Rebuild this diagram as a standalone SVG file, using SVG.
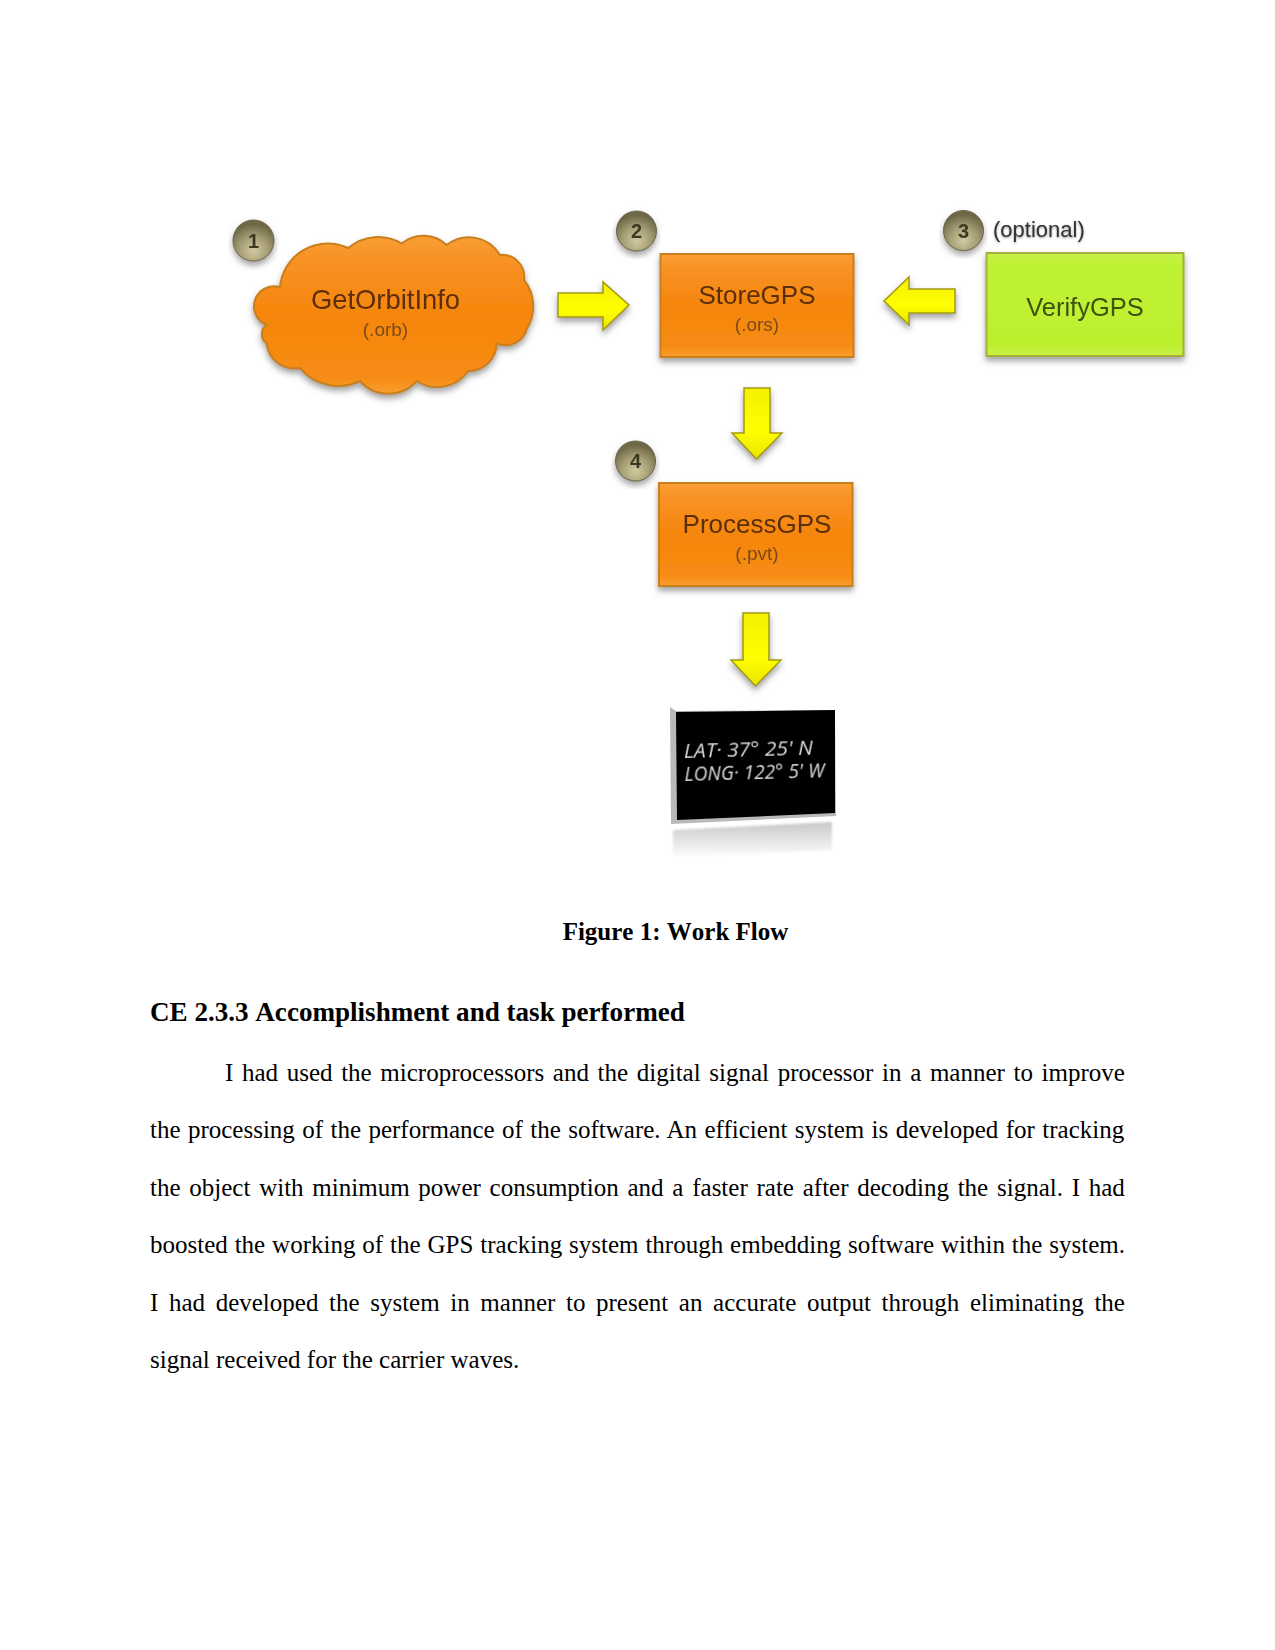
<svg xmlns="http://www.w3.org/2000/svg" width="1275" height="1650" viewBox="0 0 1275 1650">
<style>
.body{font:25px "Liberation Serif",serif;fill:#000}
.h{font-family:"Liberation Serif",serif;font-weight:bold;fill:#000;font-kerning:none}
.lbl{font-family:"Liberation Sans",Arial,sans-serif;text-anchor:middle;fill:#5c2f08}
.big{font-size:26px}
.sub{font-size:19px;fill:#7a4a18}
.num{font-family:"Liberation Sans",Arial,sans-serif;font-size:20px;font-weight:bold;text-anchor:middle;fill:#3d3820}
.org{fill:url(#og);stroke:#c97f1c;stroke-width:2}
.grn{fill:url(#gg);stroke:#a8ad3a;stroke-width:2}
.arrow{fill:url(#yg);stroke:#a39a12;stroke-width:1.5;stroke-linejoin:miter}
.bd{fill:url(#bg);stroke:#6b6546;stroke-width:1}
.lcd{font-family:"Open Sans",sans-serif;font-style:italic;font-size:20px;fill:#dcdcdc}
</style>
<defs>
<linearGradient id="og" x1="0" y1="0" x2="0" y2="1"><stop offset="0" stop-color="#fa9f35"/><stop offset=".14" stop-color="#f89226"/><stop offset=".5" stop-color="#f6860c"/><stop offset=".9" stop-color="#f68c14"/><stop offset="1" stop-color="#f9a030"/></linearGradient>
<linearGradient id="gg" x1="0" y1="0" x2="0" y2="1"><stop offset="0" stop-color="#c7f04a"/><stop offset=".12" stop-color="#bef234"/><stop offset=".9" stop-color="#bcf02e"/><stop offset="1" stop-color="#c9f24a"/></linearGradient>
<linearGradient id="yg" x1="0" y1="0" x2="0" y2="1"><stop offset="0" stop-color="#f5f000"/><stop offset=".6" stop-color="#ffff00"/><stop offset="1" stop-color="#e9e400"/></linearGradient>
<radialGradient id="bg" cx=".5" cy=".75" r=".65"><stop offset="0" stop-color="#d1c9a0"/><stop offset=".55" stop-color="#a59c74"/><stop offset="1" stop-color="#6e6848"/></radialGradient>
<linearGradient id="rf" x1="0" y1="0" x2="0" y2="1"><stop offset="0" stop-color="#c8c8c8"/><stop offset="1" stop-color="#ffffff"/></linearGradient>
<filter id="sh" x="-10%" y="-10%" width="120%" height="130%"><feDropShadow dx="0" dy="4" stdDeviation="3" flood-color="#555" flood-opacity=".55"/></filter>
<filter id="soft" x="-5%" y="-20%" width="110%" height="140%"><feGaussianBlur stdDeviation=".6"/></filter>
<filter id="rb" x="-5%" y="-10%" width="110%" height="120%"><feGaussianBlur stdDeviation="1"/></filter>
<filter id="ts" x="-5%" y="-20%" width="110%" height="150%"><feGaussianBlur stdDeviation=".4" result="b"/><feDropShadow in="b" dx="0" dy="1" stdDeviation="1" flood-color="#666" flood-opacity=".7"/></filter>
</defs>
<rect width="1275" height="1650" fill="#fff"/>

<g id="connectors">
<polygon class="arrow" filter="url(#sh)" points="558,293 603,293 603,282 629,305 603,330 603,317 558,317"/>
<polygon class="arrow" filter="url(#sh)" points="955,289 909,289 909,277 884,301 909,325 909,313 955,313"/>
<polygon class="arrow" filter="url(#sh)" points="744,388 770,388 770,433 782,433 756.5,459 732,433 744,433"/>
<polygon class="arrow" filter="url(#sh)" points="743,613 769,613 769,660 781,660 755.5,686 731,660 743,660"/>
</g>

<g id="node-getorbitinfo">
<path class="org" filter="url(#sh)" d="M266.7,325 A20,20 0 0 1 280,287.3 A48,48 0 0 1 348.3,248 A46,46 0 0 1 401.7,243.5 A34,34 0 0 1 446.7,245 A36,36 0 0 1 500,255 A22,22 0 0 1 524,280 A42,42 0 0 1 527,328.3 A22,22 0 0 1 496.7,343.3 A28,28 0 0 1 468.3,371 A38,38 0 0 1 416.7,381 A38,38 0 0 1 360,381 A50,50 0 0 1 300,368 A28,28 0 0 1 266.7,343.3 A11,11 0 0 1 266.7,325 Z"/>
<g filter="url(#soft)">
<text class="lbl" x="385.5" y="309" font-size="27.4">GetOrbitInfo</text>
<text class="lbl sub" x="385.5" y="336" font-size="19.7">(.orb)</text>
</g>
</g>
<g id="badge-1"><circle class="bd" filter="url(#sh)" cx="253.5" cy="240.5" r="20.5"/><text class="num" x="253.5" y="247.5" filter="url(#soft)">1</text></g>

<g id="node-storegps">
<rect class="org" filter="url(#sh)" x="660.5" y="254" width="193" height="103"/>
<g filter="url(#soft)">
<text class="lbl big" x="757" y="303.5">StoreGPS</text>
<text class="lbl sub" x="757" y="331">(.ors)</text>
</g>
</g>
<g id="badge-2"><circle class="bd" filter="url(#sh)" cx="636.5" cy="231" r="20"/><text class="num" x="636.5" y="238" filter="url(#soft)">2</text></g>

<g id="node-verifygps">
<rect class="grn" filter="url(#sh)" x="986.5" y="253" width="197" height="103"/>
<text class="lbl" x="1085" y="315.5" font-size="25.5" style="fill:#3f5210" filter="url(#soft)">VerifyGPS</text>
</g>
<g id="badge-3"><circle class="bd" filter="url(#sh)" cx="963.5" cy="230.5" r="20"/><text class="num" x="963.5" y="237.5" filter="url(#soft)">3</text></g>
<g id="label-optional"><text x="993" y="237" font-family="Liberation Sans, Arial, sans-serif" font-size="22" fill="#333" filter="url(#ts)">(optional)</text></g>

<g id="node-processgps">
<rect class="org" filter="url(#sh)" x="659" y="483" width="193.5" height="103"/>
<g filter="url(#soft)">
<text class="lbl big" x="757" y="533">ProcessGPS</text>
<text class="lbl sub" x="757" y="560">(.pvt)</text>
</g>
</g>
<g id="badge-4"><circle class="bd" filter="url(#sh)" cx="635.5" cy="461" r="20"/><text class="num" x="635.5" y="468" filter="url(#soft)">4</text></g>

<g id="node-display">
<polygon points="673,830 832,822 832,850 673,858" fill="url(#rf)" filter="url(#rb)"/>
<polygon points="670,707 676,711 835,710 836,816 671,824" fill="#b9b9b9"/>
<polygon points="676,712 835,710 835,813 677,820" fill="#000"/>
<g transform="rotate(-1.5 684 758)" filter="url(#soft)">
<text class="lcd" x="684" y="758" textLength="129" lengthAdjust="spacingAndGlyphs">LAT· 37° 25' N</text>
<text class="lcd" x="684" y="781" textLength="140" lengthAdjust="spacingAndGlyphs">LONG· 122° 5' W</text>
</g>
</g>

<text class="h" x="675.5" y="939.5" font-size="25" text-anchor="middle">Figure 1: Work Flow</text>
<text class="h" x="150" y="1020.5" font-size="27.08">CE 2.3.3 Accomplishment and task performed</text>
<text class="body" x="225" y="1081" word-spacing="2.39">I had used the microprocessors and the digital signal processor in a manner to improve</text>
<text class="body" x="150" y="1138" word-spacing="1.14">the processing of the performance of the software. An efficient system is developed for tracking</text>
<text class="body" x="150" y="1196" word-spacing="2.51">the object with minimum power consumption and a faster rate after decoding the signal. I had</text>
<text class="body" x="150" y="1253" word-spacing="0.65">boosted the working of the GPS tracking system through embedding software within the system.</text>
<text class="body" x="150" y="1311" word-spacing="4.38">I had developed the system in manner to present an accurate output through eliminating the</text>
<text class="body" x="150" y="1367.5">signal received for the carrier waves.</text>
</svg>
